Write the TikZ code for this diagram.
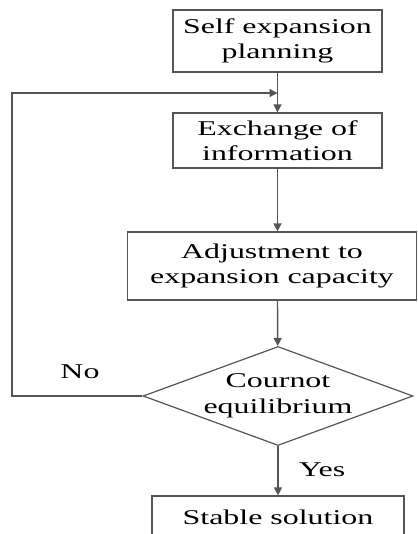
\documentclass[tikz,border=0pt]{standalone}
\usepackage{fontspec}
\setmainfont{Liberation Serif}[FakeStretch=1.52]
\usetikzlibrary{shapes.geometric,arrows.meta}
\definecolor{linegray}{HTML}{555555}
\begin{document}
\begin{tikzpicture}[
  x=1pt, y=-1pt,
  stepbox/.style={rectangle, draw=linegray, line width=1.2pt, align=center,
    inner sep=0pt, font=\fontsize{21}{25.5}\selectfont},
  check/.style={diamond, draw=linegray, line width=1.2pt, align=center,
    inner sep=0pt, aspect=2.7, font=\fontsize{21}{25.5}\selectfont},
  flow/.style={draw=linegray, line width=1.4pt, -{Triangle[length=8pt,width=8pt]}},
  tag/.style={font=\fontsize{21}{25.5}\selectfont}
]
\useasboundingbox (0,0) rectangle (417,534);

% --- Steps ---
\node[stepbox, minimum width=209pt, minimum height=62pt] (plan) at (277.5,41) {Self expansion\\planning};
\node[stepbox, minimum width=209pt, minimum height=55pt] (exch) at (277.5,140.5) {Exchange of\\information};
\node[stepbox, minimum width=289pt, minimum height=68pt] (adj) at (272,266) {Adjustment to\\expansion capacity};

% --- Decision ---
\node[check, minimum width=270pt, minimum height=99pt] (eq) at (278,396) {Cournot\\equilibrium};

% --- Result ---
\node[stepbox, minimum width=252pt, minimum height=42pt] (stable) at (278,517) {Stable solution};

% --- Feedback corners ---
\coordinate (join) at (277.5,93);
\coordinate (lt) at (12,93);
\coordinate (lb) at (12,396);

% --- Edges ---
\draw[flow] (plan) -- (exch);
\draw[flow] (exch) -- (exch |- adj.north);
\draw[flow] (exch |- adj.south) -- (eq);
\draw[flow] (eq) -- (stable);
\draw[flow] (eq.west) -- (lb) -- (lt) -- (join);

% --- Labels ---
\node[tag] (no) at (80,372) {No};
\node[tag] (yes) at (322,470) {Yes};

\end{tikzpicture}
\end{document}
